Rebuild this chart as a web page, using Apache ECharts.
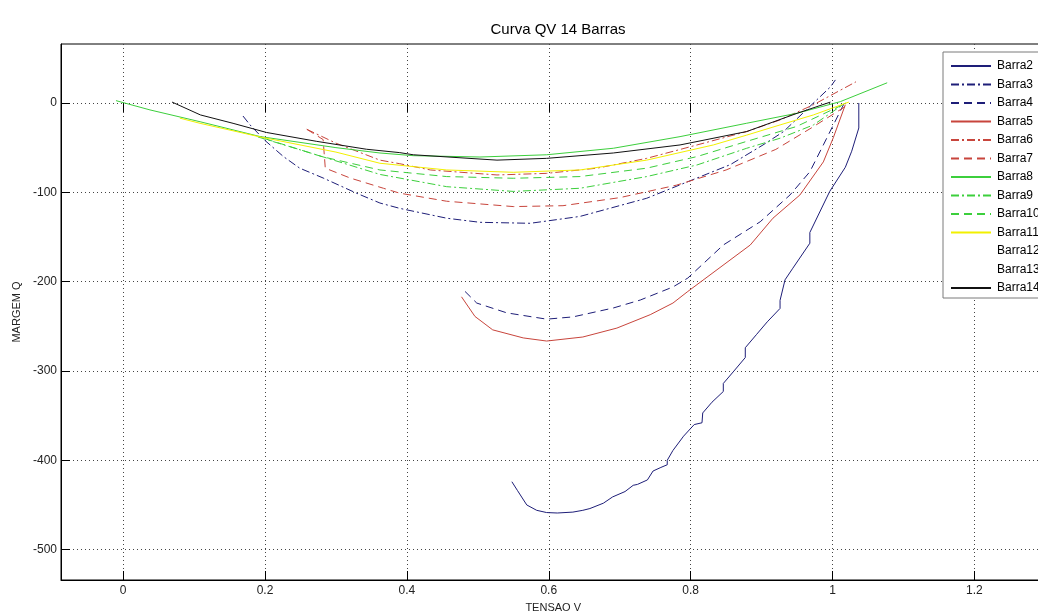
<!DOCTYPE html>
<html>
<head>
<meta charset="utf-8">
<script src="https://cdn.jsdelivr.net/npm/echarts@6/dist/echarts.min.js"></script>
<style>
  html, body { margin: 0; padding: 0; background: #fff; }
  #chart { width: 1038px; height: 613px; }
</style>
</head>
<body>
<div id="chart"></div>
<script>
// QV curves, one [tensao, margem Q] list per bus
const barra2 = [[0.548,-424],[0.556,-434],[0.569,-450],[0.583,-456],[0.597,-458.5],[0.612,-459],[0.634,-458],[0.648,-456],[0.658,-454],[0.677,-448],[0.69,-441],[0.7075,-435],[0.719,-428],[0.725,-427],[0.739,-422],[0.747,-412],[0.758,-408],[0.767,-405],[0.767,-400],[0.775,-389],[0.79,-373],[0.805,-360],[0.816,-358],[0.817,-347],[0.83,-335],[0.846,-323],[0.846,-314],[0.86,-301],[0.877,-285],[0.877,-274],[0.893,-259],[0.908,-245],[0.926,-230],[0.926,-221],[0.933,-198],[0.944,-185],[0.968,-157],[0.968,-145],[0.996,-99],[1.018,-72],[1.027,-54],[1.037,-28],[1.037,0]];
const barra3 = [[0.169,-14.6],[0.179,-24.6],[0.2,-42],[0.226,-60],[0.249,-73],[0.282,-84],[0.329,-101],[0.362,-112],[0.39,-118],[0.456,-129],[0.503,-133.6],[0.574,-134.7],[0.644,-127],[0.738,-106.7],[0.809,-84],[0.856,-69],[0.902,-47],[0.931,-32],[0.96,-10],[0.997,18],[1.004,25.8]];
const barra4 = [[0.482,-211],[0.4985,-224],[0.541,-235],[0.597,-242],[0.634,-239.5],[0.691,-229.5],[0.729,-220.6],[0.775,-206],[0.796,-196],[0.846,-159],[0.898,-133],[0.94,-103],[0.968,-77],[0.987,-47],[1.016,-1]];
const barra5 = [[0.477,-217],[0.496,-239],[0.521,-254],[0.564,-263],[0.597,-266.5],[0.648,-262],[0.696,-252],[0.743,-237],[0.775,-224],[0.796,-211],[0.884,-159],[0.916,-129],[0.954,-103],[0.987,-66],[1.001,-39],[1.018,-2]];
const barra6 = [[0.259,-29.5],[0.3,-45],[0.362,-64],[0.39,-68],[0.433,-75],[0.527,-80.6],[0.597,-78.8],[0.668,-73],[0.738,-62],[0.809,-47],[0.879,-32],[0.926,-19],[0.973,-2],[1.033,23.7]];
const barra7 = [[0.259,-29.5],[0.282,-41],[0.285,-73],[0.32,-84],[0.367,-95.5],[0.39,-101],[0.456,-110],[0.55,-116],[0.62,-115],[0.7,-106],[0.78,-92],[0.85,-75],[0.92,-52],[0.97,-28],[1.02,-3]];
const barra8 = [[-0.01,2.6],[0.038,-7.8],[0.1085,-21],[0.193,-37.6],[0.3,-50],[0.362,-56],[0.409,-59],[0.503,-60.5],[0.597,-58],[0.691,-50.7],[0.785,-37.7],[0.879,-22.7],[0.95,-11.5],[1.011,1.5],[1.077,22.6]];
const barra9 = [[0.19,-38],[0.26,-55],[0.362,-80],[0.456,-93.7],[0.55,-99],[0.644,-95.5],[0.738,-82.4],[0.809,-69.4],[0.879,-50.7],[0.926,-39.5],[0.973,-24.6],[1.018,0]];
const barra10 = [[0.2,-40],[0.28,-60],[0.362,-75],[0.456,-82.4],[0.55,-84.3],[0.644,-82.4],[0.738,-73],[0.809,-60],[0.879,-43],[0.949,-26.4],[1.02,0]];
const barra11 = [[0.08,-17],[0.1085,-22.8],[0.193,-38],[0.3,-55],[0.362,-67.5],[0.456,-75],[0.55,-77.6],[0.644,-75],[0.738,-64],[0.832,-47],[0.879,-36],[0.926,-24.6],[0.973,-13.4],[1.023,1]];
const barra12 = [];
const barra13 = [];
const barra14 = [[0.069,1],[0.109,-13.4],[0.155,-22.8],[0.202,-33],[0.273,-43],[0.343,-51.8],[0.39,-55.6],[0.409,-58],[0.527,-64],[0.597,-62],[0.691,-56],[0.785,-47],[0.879,-32],[0.95,-11.6],[0.997,1]];

const xTicks = [0, 0.2, 0.4, 0.6, 0.8, 1, 1.2];
const yTicks = [0, -100, -200, -300, -400, -500];

const NAVY = '#1e1e78', RED = '#c8453c', GREEN = '#3ccf3c', YELLOW = '#f2f000', BLACK = '#111111';
const SOLID = 'solid', DASHDOT = [8, 3, 2, 3], DASHED = [8, 5];

const seriesDefs = [
  ['Barra2', barra2, NAVY, SOLID],
  ['Barra3', barra3, NAVY, DASHDOT],
  ['Barra4', barra4, NAVY, DASHED],
  ['Barra5', barra5, RED, SOLID],
  ['Barra6', barra6, RED, DASHDOT],
  ['Barra7', barra7, RED, DASHED],
  ['Barra8', barra8, GREEN, SOLID],
  ['Barra9', barra9, GREEN, DASHDOT],
  ['Barra10', barra10, GREEN, DASHED],
  ['Barra11', barra11, YELLOW, SOLID],
  ['Barra12', barra12, '#ffffff', DASHDOT],
  ['Barra13', barra13, '#ffffff', DASHED],
  ['Barra14', barra14, BLACK, SOLID]
];

const FONT = '"Liberation Sans", Arial, sans-serif';
const chart = echarts.init(document.getElementById('chart'), null, { renderer: 'canvas' });

const gridLine = { show: true, lineStyle: { color: '#444', type: [1, 3], width: 1 } };
const CLEAR = 'rgba(0,0,0,0)';

chart.setOption({
  animation: false,
  backgroundColor: '#fff',
  title: {
    text: 'Curva QV 14 Barras',
    left: 553, top: 17, textAlign: 'center',
    textStyle: { fontFamily: FONT, fontSize: 15, fontWeight: 'normal', color: '#000' }
  },
  legend: {
    orient: 'vertical',
    left: 943, top: 52,
    padding: [8, 40, 4, 7],
    itemWidth: 40, itemHeight: 12, itemGap: 6.5,
    backgroundColor: '#fff',
    borderColor: '#7a7a7a', borderWidth: 1,
    itemStyle: { color: CLEAR, borderColor: CLEAR, borderWidth: 0 },
    textStyle: { fontFamily: FONT, fontSize: 12, color: '#000', padding: [0, 0, 0, 1] },
    data: seriesDefs.map(d => d[0])
  },
  grid: {
    left: 61, top: 44, width: 984.4, height: 536,
    outerBoundsMode: 'none', containLabel: false,
    show: true, borderColor: '#000', borderWidth: 1, backgroundColor: '#fff'
  },
  xAxis: [{
    type: 'value', min: -0.0875, max: 1.3,
    name: 'TENSAO V', nameLocation: 'middle', nameGap: 22,
    nameTextStyle: { fontFamily: FONT, fontSize: 11, color: '#222' },
    axisLine: { show: true, onZero: false, lineStyle: { color: '#000' } },
    axisTick: { show: true, inside: true, length: 9, customValues: xTicks, lineStyle: { color: '#000' } },
    axisLabel: { customValues: xTicks, fontFamily: FONT, fontSize: 12, color: '#222', margin: 5 },
    splitLine: gridLine
  }, {
    type: 'value', position: 'top', min: -0.0875, max: 1.3,
    axisLine: { show: false },
    axisTick: { show: true, inside: true, length: 9, customValues: xTicks, lineStyle: { color: '#000' } },
    axisLabel: { show: false },
    splitLine: { show: false }
  }],
  yAxis: {
    type: 'value', min: -534, max: 66,
    name: 'MARGEM Q', nameLocation: 'middle', nameGap: 37, nameRotate: 90,
    nameTextStyle: { fontFamily: FONT, fontSize: 11, color: '#222' },
    axisLine: { show: true, onZero: false, lineStyle: { color: '#000' } },
    axisTick: { show: true, inside: true, length: 9, customValues: yTicks, lineStyle: { color: '#000' } },
    axisLabel: { customValues: yTicks, fontFamily: FONT, fontSize: 12, color: '#222', margin: 4 },
    splitLine: gridLine
  },
  series: seriesDefs.map(([name, data, color, type]) => ({
    name, type: 'line', data,
    showSymbol: false, symbol: 'none',
    xAxisIndex: 0,
    lineStyle: { color, width: 1, type },
    itemStyle: { color },
    emphasis: { disabled: true }
  }))
});
</script>
</body>
</html>
